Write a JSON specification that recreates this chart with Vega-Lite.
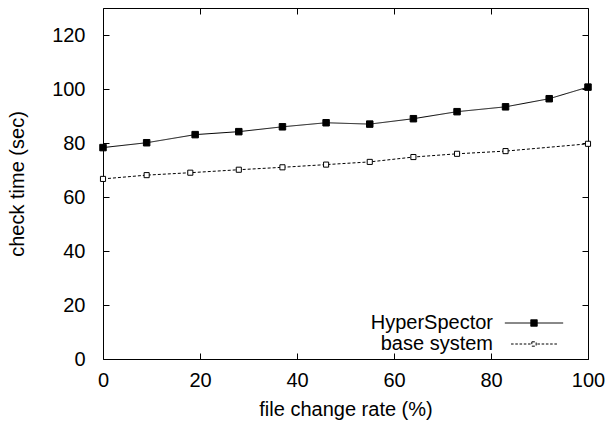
{
  "$schema": "https://vega.github.io/schema/vega-lite/v6.json",
  "width": 485,
  "height": 351,
  "autosize": "none",
  "padding": {"left": 103, "top": 8, "right": 22, "bottom": 65},
  "background": "white",
  "config": {
    "font": "Liberation Sans",
    "view": {"stroke": "black", "strokeWidth": 1},
    "axis": {
      "grid": false,
      "domain": false,
      "labelFlush": false,
      "tickColor": "black",
      "tickSize": -6,
      "tickWidth": 1,
      "labelColor": "black",
      "labelFont": "Liberation Sans",
      "labelFontSize": 20,
      "titleFont": "Liberation Sans",
      "titleFontSize": 20,
      "titleFontWeight": "normal",
      "titleColor": "black"
    }
  },
  "data": {
    "values": [
      {"rate": 0, "time": 78.3, "series": "HyperSpector"},
      {"rate": 9, "time": 80.1, "series": "HyperSpector"},
      {"rate": 19, "time": 83.1, "series": "HyperSpector"},
      {"rate": 28, "time": 84.2, "series": "HyperSpector"},
      {"rate": 37, "time": 86.0, "series": "HyperSpector"},
      {"rate": 46, "time": 87.5, "series": "HyperSpector"},
      {"rate": 55, "time": 87.0, "series": "HyperSpector"},
      {"rate": 64, "time": 89.0, "series": "HyperSpector"},
      {"rate": 73, "time": 91.6, "series": "HyperSpector"},
      {"rate": 83, "time": 93.4, "series": "HyperSpector"},
      {"rate": 92, "time": 96.4, "series": "HyperSpector"},
      {"rate": 100, "time": 100.7, "series": "HyperSpector"},
      {"rate": 0, "time": 66.7, "series": "base system"},
      {"rate": 9, "time": 68.1, "series": "base system"},
      {"rate": 18, "time": 69.0, "series": "base system"},
      {"rate": 28, "time": 70.1, "series": "base system"},
      {"rate": 37, "time": 71.0, "series": "base system"},
      {"rate": 46, "time": 72.0, "series": "base system"},
      {"rate": 55, "time": 73.0, "series": "base system"},
      {"rate": 64, "time": 74.8, "series": "base system"},
      {"rate": 73, "time": 76.0, "series": "base system"},
      {"rate": 83, "time": 77.0, "series": "base system"},
      {"rate": 100, "time": 79.7, "series": "base system"}
    ]
  },
  "layer": [
    {
      "mark": {"type": "line", "color": "black", "strokeWidth": 1},
      "encoding": {
        "x": {
          "field": "rate", "type": "quantitative",
          "scale": {"domain": [0, 100], "nice": false},
          "axis": {"values": [0, 20, 40, 60, 80, 100], "title": "file change rate (%)", "labelPadding": 17, "titlePadding": 9}
        },
        "y": {
          "field": "time", "type": "quantitative",
          "scale": {"domain": [0, 130], "nice": false, "zero": true},
          "axis": {"values": [0, 20, 40, 60, 80, 100, 120], "title": "check time (sec)", "labelPadding": 24, "titlePadding": 24}
        },
        "strokeDash": {
          "field": "series", "type": "nominal",
          "scale": {"domain": ["HyperSpector", "base system"], "range": [[1, 0], [3, 2]]},
          "legend": {
            "title": null,
            "orient": "none",
            "legendX": 421,
            "legendY": 305,
            "padding": 0,
            "symbolType": "M-9,0H9M-1,-1H1V1H-1Z",
            "symbolSize": 36,
            "symbolStrokeColor": "black",
            "symbolStrokeWidth": 1,
            "labelAlign": "right",
            "labelOffset": -51,
            "labelFont": "Liberation Sans",
            "labelFontSize": 20,
            "labelColor": "black",
            "rowPadding": 1,
            "encode": {
              "symbols": {
                "update": {
                  "shape": {"signal": "datum.value === 'HyperSpector' ? 'M-9,0H9M-1,-1H1V1H-1Z' : 'M-9,0H-8M-7.33,0H-6.33M-5.67,0H-4.67M-4,0H-3M-2.33,0H-1.33M1.33,0H2.33M3,0H4M4.67,0H5.67M6.33,0H7.33M8,0H9M-0.85,-0.85H0.85V0.85H-0.85Z'"},
                  "fill": {"signal": "datum.value === 'HyperSpector' ? 'black' : 'white'"},
                  "fillOpacity": {"value": 1},
                  "stroke": {"value": "black"},
                  "strokeDash": {"value": [1, 0]},
                  "strokeWidth": {"value": 1},
                  "strokeOpacity": {"value": 1},
                  "opacity": {"value": 1}
                }
              }
            }
          }
        }
      }
    },
    {
      "mark": {"type": "point", "shape": "square", "filled": true, "stroke": "black", "strokeWidth": 1, "opacity": 1},
      "encoding": {
        "x": {
          "field": "rate", "type": "quantitative",
          "axis": {"orient": "top", "values": [0, 20, 40, 60, 80, 100], "labels": false, "title": null}
        },
        "y": {
          "field": "time", "type": "quantitative",
          "axis": {"orient": "right", "values": [0, 20, 40, 60, 80, 100, 120], "labels": false, "title": null}
        },
        "fill": {
          "field": "series", "type": "nominal",
          "scale": {"domain": ["HyperSpector", "base system"], "range": ["black", "white"]},
          "legend": null
        },
        "size": {
          "field": "series", "type": "nominal",
          "scale": {"domain": ["HyperSpector", "base system"], "range": [42, 26]},
          "legend": null
        }
      }
    }
  ],
  "resolve": {"axis": {"x": "independent", "y": "independent"}}
}
